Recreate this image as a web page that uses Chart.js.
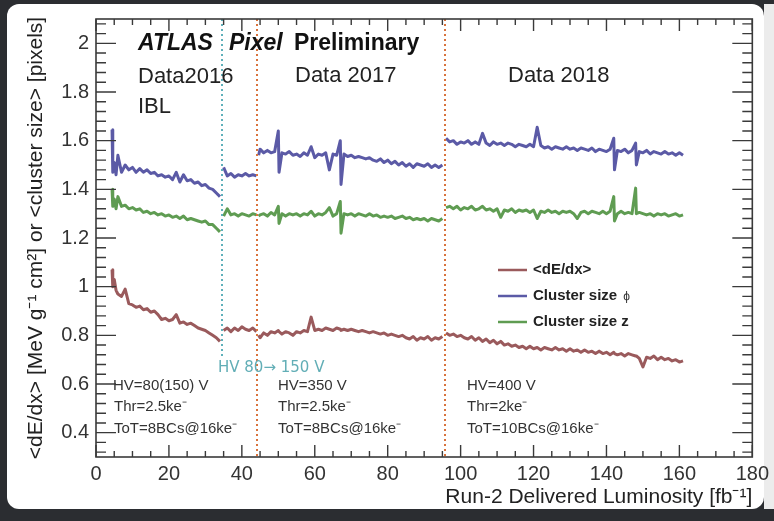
<!DOCTYPE html>
<html><head><meta charset="utf-8">
<script src="https://cdn.jsdelivr.net/npm/chart.js@4.4.1/dist/chart.umd.min.js"></script>
<style>
html,body{margin:0;padding:0;background:#2b2d31;width:774px;height:521px;overflow:hidden}
#panel{position:absolute;left:7px;top:4px;width:757px;height:505px;background:#fff;border-radius:12px}
#rstrip{position:absolute;left:764px;top:4px;width:10px;height:505px;background:#ececec}
canvas{position:absolute;left:0;top:0}
</style></head><body>
<div id="panel"></div><div id="rstrip"></div>
<canvas id="c" width="774" height="521"></canvas>
<script>
// ---- data (luminosity in fb^-1) ----
// 2016, before HV change
const lumiA = [4.4,4.6,5,5.5,6,7,8,9,10,11,12,13,14,15,16,17,18,19,20,21,22,23,24,25,26,27,28,29,30,31,32,33,34];
const dedxA = [1.07,1.00,1.03,0.985,0.97,
  0.96,0.99,0.93,0.925,0.915,0.92,0.905,0.91,0.895,0.90,
  0.885,0.865,0.87,0.86,0.865,0.885,0.85,0.855,0.845,0.85,
  0.84,0.83,0.825,0.82,0.81,0.80,0.79,0.775];
const phiA = [1.645,1.47,1.51,1.46,1.54,
  1.47,1.50,1.48,1.49,1.47,1.485,1.47,1.48,1.465,1.47,
  1.455,1.46,1.45,1.455,1.44,1.47,1.43,1.46,1.435,1.44,
  1.425,1.43,1.415,1.42,1.405,1.40,1.385,1.37];
const zA = [1.40,1.33,1.36,1.32,1.37,
  1.33,1.335,1.32,1.325,1.315,1.32,1.305,1.31,1.30,1.305,
  1.295,1.30,1.29,1.295,1.285,1.29,1.28,1.29,1.275,1.28,
  1.275,1.27,1.265,1.27,1.255,1.255,1.24,1.225];
// 2016, after HV change
const lumiB = [35,36,37,38,39,40,41,42,43,44];
const dedxB = [0.82,0.83,0.815,0.83,0.82,0.835,0.825,0.82,0.83,0.815];
const phiB  = [1.49,1.455,1.465,1.45,1.46,1.455,1.465,1.455,1.46,1.455];
const zB    = [1.29,1.32,1.295,1.30,1.29,1.30,1.295,1.29,1.30,1.295];
// 2017
const lumiC = [44.6,45,46,47,48,49,50,50.2,51,52,53,54,55,56,57,58,59,60,61,62,63,64,65,66,67,67.2,
  68,69,70,71,72,73,74,75,76,77,78,79,80,81,82,83,84,85,86,87,88,89,90,91,92,93,94,95];
const dedxC = [0.80,0.79,0.81,0.80,0.815,0.81,0.82,0.815,0.805,0.815,0.81,0.80,0.815,0.81,0.82,0.815,0.875,0.82,0.825,0.82,0.83,0.825,0.82,0.83,0.825,0.82,
  0.825,0.82,0.825,0.82,0.815,0.82,0.815,0.81,0.815,0.81,0.805,0.81,0.80,0.805,0.80,0.795,0.80,0.79,0.785,0.795,0.78,0.79,0.785,0.795,0.78,0.79,0.785,0.795];
const phiC = [1.54,1.565,1.55,1.56,1.55,1.555,1.64,1.47,1.55,1.545,1.555,1.54,1.545,1.535,1.55,1.54,1.575,1.53,1.545,1.54,1.55,1.48,1.545,1.54,1.60,1.42,
  1.545,1.535,1.54,1.53,1.535,1.53,1.525,1.53,1.52,1.515,1.525,1.51,1.52,1.505,1.515,1.50,1.51,1.495,1.505,1.49,1.505,1.50,1.495,1.505,1.49,1.50,1.49,1.50];
const zC = [1.29,1.295,1.30,1.29,1.305,1.295,1.33,1.26,1.30,1.29,1.30,1.295,1.30,1.29,1.30,1.295,1.31,1.29,1.30,1.295,1.305,1.325,1.29,1.30,1.35,1.22,
  1.30,1.295,1.30,1.29,1.30,1.295,1.29,1.30,1.29,1.295,1.285,1.29,1.285,1.29,1.28,1.285,1.29,1.28,1.285,1.275,1.28,1.275,1.28,1.27,1.28,1.275,1.27,1.28];
// 2018
const lumiD = [96,97,98,99,100,101,102,103,104,105,106,107,108,109,110,111,112,113,114,115,
  116,117,118,119,120,121,122,123,124,125,126,127,128,129,130,131,132,133,134,135,
  136,137,138,139,140,141,142,142.2,143,144,145,146,147,148,148.2,
  149,150,151,152,153,154,155,156,157,158,159,160,161];
const dedxD = [0.81,0.80,0.805,0.795,0.80,0.79,0.785,0.795,0.78,0.79,
  0.775,0.785,0.77,0.78,0.765,0.775,0.76,0.765,0.755,0.76,
  0.75,0.755,0.745,0.755,0.745,0.75,0.74,0.75,0.745,0.74,
  0.75,0.74,0.745,0.735,0.745,0.735,0.74,0.73,0.74,0.73,
  0.735,0.725,0.735,0.725,0.73,0.72,0.73,0.725,0.72,0.725,0.715,0.725,0.72,0.715,0.715,
  0.705,0.67,0.71,0.705,0.715,0.70,0.71,0.70,0.705,0.695,0.70,0.69,0.695];
const phiD = [1.61,1.595,1.60,1.585,1.595,1.59,1.60,1.585,1.595,1.585,
  1.63,1.59,1.58,1.595,1.585,1.59,1.58,1.59,1.585,1.575,
  1.585,1.58,1.575,1.585,1.575,1.655,1.58,1.57,1.575,1.565,
  1.575,1.57,1.565,1.575,1.565,1.57,1.56,1.57,1.565,1.56,
  1.57,1.555,1.565,1.56,1.555,1.565,1.61,1.48,1.56,1.555,1.565,1.55,1.56,1.59,1.50,
  1.555,1.55,1.56,1.545,1.555,1.55,1.545,1.555,1.545,1.55,1.54,1.55,1.54];
const zD = [1.325,1.33,1.32,1.33,1.315,1.325,1.32,1.33,1.315,1.32,
  1.33,1.315,1.32,1.31,1.32,1.285,1.315,1.31,1.32,1.305,
  1.315,1.31,1.315,1.305,1.315,1.28,1.31,1.305,1.315,1.305,
  1.31,1.30,1.31,1.305,1.31,1.30,1.28,1.305,1.31,1.30,
  1.31,1.305,1.30,1.31,1.30,1.31,1.37,1.27,1.30,1.31,1.30,1.305,1.30,1.405,1.30,
  1.305,1.30,1.295,1.30,1.29,1.30,1.295,1.30,1.29,1.295,1.30,1.29,1.295];

const xTickValues = [0,20,40,60,80,100,120,140,160,180];
const yTickValues = [0.4,0.6,0.8,1.0,1.2,1.4,1.6,1.8,2.0];
const yTickLabels = ['0.4','0.6','0.8','1','1.2','1.4','1.6','1.8','2'];
const hvChangeLumi = 34.5;      // teal dotted line
const hvLineEnd = 0.71;         // teal line stops above its label
const yearBoundaries = [44.1, 95.6]; // orange dotted lines

const FONT = '"Liberation Sans", Arial, Helvetica, sans-serif';
const COL_DEDX = '#9a5a5c', COL_PHI = '#5b5aa6', COL_Z = '#5f9c52';

const segLumi = [lumiA, lumiB, lumiC, lumiD];
function build(segVals) {
  const pts = [];
  segVals.forEach((vals, s) => {
    const xs = segLumi[s];
    if (xs.length !== vals.length) throw new Error('length mismatch seg ' + s + ': ' + xs.length + ' vs ' + vals.length);
    xs.forEach((xv, i) => pts.push({x: xv, y: vals[i]}));
    if (s < segVals.length - 1) pts.push({x: xs[xs.length - 1] + 0.1, y: null});
  });
  return pts;
}

const decor = {
  id: 'decor',
  afterDatasetsDraw(chart) {
    const {ctx, chartArea: a, scales: {x, y}} = chart;
    ctx.save();
    ctx.lineWidth = 2;
    ctx.setLineDash([2, 3]);
    ctx.strokeStyle = '#5fb0ba';
    let px = Math.round(x.getPixelForValue(hvChangeLumi));
    ctx.beginPath(); ctx.moveTo(px, a.top); ctx.lineTo(px, y.getPixelForValue(hvLineEnd)); ctx.stroke();
    ctx.strokeStyle = '#d8733d';
    yearBoundaries.forEach(b => {
      const p = Math.round(x.getPixelForValue(b));
      ctx.beginPath(); ctx.moveTo(p, a.top); ctx.lineTo(p, a.bottom); ctx.stroke();
    });
    ctx.restore();
  },
  afterDraw(chart) {
    const {ctx, chartArea: a, scales: {x, y}} = chart;
    ctx.save();
    // frame
    ctx.strokeStyle = '#3a3a3a';
    ctx.lineWidth = 1.6;
    ctx.strokeRect(a.left, a.top, a.right - a.left, a.bottom - a.top);
    // ticks x (inside, bottom and top)
    ctx.lineWidth = 1.4;
    ctx.beginPath();
    for (let i = 0; i <= 36; i++) {
      const v = i * 5;
      const p = x.getPixelForValue(v);
      const len = (i % 4 === 0) ? 12 : 6;
      ctx.moveTo(p, a.bottom); ctx.lineTo(p, a.bottom - len);
      ctx.moveTo(p, a.top); ctx.lineTo(p, a.top + len);
    }
    // ticks y (inside, left and right)
    for (let i = 8; i <= 52; i++) {
      const v = i * 0.04;
      const p = y.getPixelForValue(v);
      const len = (i % 5 === 0) ? 20 : 10;
      ctx.moveTo(a.left, p); ctx.lineTo(a.left + len, p);
      ctx.moveTo(a.right, p); ctx.lineTo(a.right - len, p);
    }
    ctx.stroke();

    const txt = (s, tx, ty, font, color, align, base) => {
      ctx.font = font; ctx.fillStyle = color;
      ctx.textAlign = align || 'left'; ctx.textBaseline = base || 'alphabetic';
      ctx.fillText(s, tx, ty);
    };
    // ATLAS label
    txt('ATLAS', 138, 50, 'italic bold 23px ' + FONT, '#111');
    txt('Pixel', 229, 50, 'italic bold 23px ' + FONT, '#111');
    txt('Preliminary', 294, 50, 'bold 23px ' + FONT, '#111');
    // periods
    txt('Data2016', 138, 83, '22px ' + FONT, '#222');
    txt('IBL', 138, 113, '22px ' + FONT, '#222');
    txt('Data 2017', 295, 82, '22px ' + FONT, '#222');
    txt('Data 2018', 508, 82, '22px ' + FONT, '#222');
    // operating conditions
    const f = '15px ' + FONT, c = '#333';
    txt('HV=80(150) V', 113, 390, f, c);
    txt('Thr=2.5ke⁻', 114, 411, f, c);
    txt('ToT=8BCs@16ke⁻', 114, 433, f, c);
    txt('HV=350 V', 278, 390, f, c);
    txt('Thr=2.5ke⁻', 278, 411, f, c);
    txt('ToT=8BCs@16ke⁻', 278, 433, f, c);
    txt('HV=400 V', 467, 390, f, c);
    txt('Thr=2ke⁻', 467, 411, f, c);
    txt('ToT=10BCs@16ke⁻', 467, 433, f, c);
    txt('HV 80→ 150 V', 218, 372, '15px "DejaVu Sans", ' + FONT, '#62aeb6');
    // legend
    const leg = [['<dE/dx>', COL_DEDX, 270, ''], ['Cluster size ', COL_PHI, 296, 'ϕ'], ['Cluster size z', COL_Z, 322, '']];
    leg.forEach(([label, col, ly, extra]) => {
      ctx.strokeStyle = col; ctx.lineWidth = 2.5;
      ctx.beginPath(); ctx.moveTo(498, ly); ctx.lineTo(527, ly); ctx.stroke();
      txt(label, 533, ly, 'bold 15px ' + FONT, '#222', 'left', 'middle');
      if (extra) {
        ctx.font = 'bold 15px ' + FONT;
        const w = ctx.measureText(label).width;
        txt(extra, 533 + w + 2, ly + 1, '12px ' + FONT, '#333', 'left', 'middle');
      }
    });
    ctx.restore();
  }
};

new Chart(document.getElementById('c'), {
  type: 'line',
  data: {
    datasets: [
      {label: '<dE/dx>', data: build([dedxA, dedxB, dedxC, dedxD]), borderColor: COL_DEDX, borderWidth: 3},
      {label: 'Cluster size ϕ', data: build([phiA, phiB, phiC, phiD]), borderColor: COL_PHI, borderWidth: 3},
      {label: 'Cluster size z', data: build([zA, zB, zC, zD]), borderColor: COL_Z, borderWidth: 3}
    ]
  },
  options: {
    responsive: false, animation: false, devicePixelRatio: 1,
    layout: {padding: {left: 0, top: 17, right: 20, bottom: 0}},
    plugins: {legend: {display: false}, tooltip: {enabled: false}},
    elements: {point: {radius: 0}, line: {tension: 0, borderJoinStyle: 'round'}},
    spanGaps: false,
    scales: {
      x: {
        type: 'linear', min: 0, max: 180,
        afterFit(s) { s.height = 64; },
        afterBuildTicks(s) { s.ticks = xTickValues.map(v => ({value: v})); },
        ticks: {callback: v => String(v), font: {family: FONT, size: 20}, color: '#333', padding: 5, maxRotation: 0, autoSkip: false},
        grid: {display: false, drawTicks: false}, border: {display: false},
        title: {display: true, text: 'Run-2 Delivered Luminosity [fb⁻¹]', align: 'end', color: '#222',
                font: {family: FONT, size: 21}, padding: {top: 0, bottom: 11}}
      },
      y: {
        type: 'linear', min: 0.3, max: 2.1,
        afterFit(s) { s.width = 96; },
        afterBuildTicks(s) { s.ticks = yTickValues.map(v => ({value: v})); },
        ticks: {callback: (v, i) => yTickLabels[i], font: {family: FONT, size: 20}, color: '#333', padding: 7, autoSkip: false},
        grid: {display: false, drawTicks: false}, border: {display: false},
        title: {display: true, text: '<dE/dx> [MeV g⁻¹ cm²] or <cluster size> [pixels]', color: '#222',
                font: {family: FONT, size: 21}, padding: {top: 24, bottom: 0}}
      }
    }
  },
  plugins: [decor]
});
</script>
</body></html>
